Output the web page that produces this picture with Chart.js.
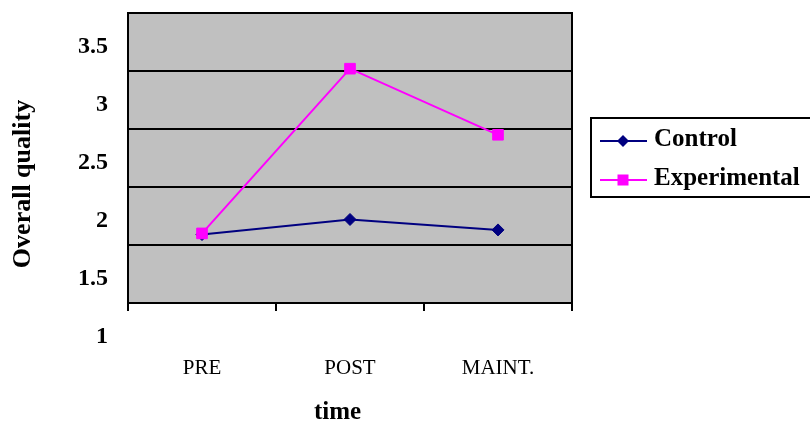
<!DOCTYPE html>
<html>
<head>
<meta charset="utf-8">
<script src="https://cdn.jsdelivr.net/npm/chart.js"></script>
<style>
  html, body { margin: 0; padding: 0; background: #ffffff; }
  #wrap { width: 810px; height: 425px; }
</style>
</head>
<body>
<div id="wrap"><canvas id="c" width="810" height="425"></canvas></div>
<script>
const categories = ['PRE', 'POST', 'MAINT.'];
const controlValues = [1.59, 1.72, 1.63];
const experimentalValues = [1.60, 3.02, 2.45];
const yTickLabels = ['1', '1.5', '2', '2.5', '3', '3.5'];
const seriesNames = ['Control', 'Experimental'];
const yTitle = 'Overall quality';
const xTitle = 'time';

const SERIF = "'Liberation Serif', 'Times New Roman', serif";

const plotBackground = {
  id: 'plotBackground',
  beforeDraw(chart) {
    const { ctx, chartArea: a } = chart;
    ctx.save();
    ctx.fillStyle = '#C0C0C0';
    ctx.fillRect(a.left, a.top, a.right - a.left, a.bottom - a.top);
    ctx.strokeStyle = '#000000';
    ctx.lineWidth = 2;
    ctx.strokeRect(a.left, a.top, a.right - a.left, a.bottom - a.top);
    ctx.restore();
  }
};

const boxedLegend = {
  id: 'boxedLegend',
  afterDraw(chart) {
    const { ctx, chartArea: a } = chart;
    const left = a.right + 19, top = a.top + 105;
    ctx.save();
    ctx.strokeStyle = '#000000';
    ctx.lineWidth = 2;
    ctx.strokeRect(left, top, 240, 79);
    chart.data.datasets.forEach((ds, i) => {
      const y = top + 23 + i * 39;
      ctx.strokeStyle = ds.borderColor;
      ctx.lineWidth = 2;
      ctx.beginPath();
      ctx.moveTo(left + 9, y);
      ctx.lineTo(left + 56, y);
      ctx.stroke();
      ctx.fillStyle = ds.borderColor;
      const cx = left + 32;
      if (ds.pointStyle === 'rectRot') {
        const r = 6;
        ctx.beginPath();
        ctx.moveTo(cx - r, y); ctx.lineTo(cx, y - r); ctx.lineTo(cx + r, y); ctx.lineTo(cx, y + r);
        ctx.closePath();
        ctx.fill();
      } else {
        ctx.fillRect(cx - 5.5, y - 5.5, 11, 11);
      }
      ctx.fillStyle = '#000000';
      ctx.font = "bold 25px " + SERIF;
      ctx.textBaseline = 'alphabetic';
      ctx.textAlign = 'left';
      ctx.fillText(ds.label, left + 63, y + 5);
    });
    ctx.restore();
  }
};

new Chart(document.getElementById('c'), {
  type: 'line',
  data: {
    labels: categories,
    datasets: [
      {
        label: seriesNames[0],
        data: controlValues,
        borderColor: '#000080',
        backgroundColor: '#000080',
        borderWidth: 2,
        pointStyle: 'rectRot',
        pointRadius: 6,
        pointBorderWidth: 1,
        tension: 0,
        order: 2
      },
      {
        label: seriesNames[1],
        data: experimentalValues,
        borderColor: '#FF00FF',
        backgroundColor: '#FF00FF',
        borderWidth: 2,
        pointStyle: 'rect',
        pointRadius: 7.5,
        pointBorderWidth: 1,
        tension: 0,
        order: 1
      }
    ]
  },
  options: {
    responsive: false,
    animation: false,
    layout: { padding: { left: 0, top: 13, right: 238, bottom: 0 } },
    plugins: {
      legend: { display: false },
      tooltip: { enabled: false }
    },
    scales: {
      x: {
        type: 'category',
        offset: true,
        afterFit: s => { s.height = 122; s.paddingLeft = 0; s.paddingRight = 0; },
        grid: { offset: true, drawOnChartArea: false, drawTicks: true, tickLength: 8, color: '#000000', lineWidth: 2 },
        border: { display: true, color: '#000000', width: 2 },
        ticks: { color: '#000000', padding: 45, font: { family: SERIF, size: 21 } },
        title: {
          display: true,
          text: xTitle + '\u2003',
          color: '#000000',
          font: { family: SERIF, size: 25, weight: 'bold', lineHeight: 1 },
          padding: { top: 0, bottom: 0 }
        }
      },
      y: {
        min: 1,
        max: 3.5,
        afterFit: s => { s.width = 128; s.paddingTop = 0; s.paddingBottom = 0; },
        grid: { color: '#000000', lineWidth: 2, drawTicks: false },
        border: { display: true, color: '#000000', width: 2 },
        ticks: {
          stepSize: 0.5,
          padding: 20,
          labelOffset: 34,
          color: '#000000',
          font: { family: SERIF, size: 24, weight: 'bold' },
          callback: (v, i) => yTickLabels[i]
        },
        title: {
          display: true,
          text: yTitle + '\u2003\u2003',
          color: '#000000',
          font: { family: SERIF, size: 26, weight: 'bold', lineHeight: 1 },
          padding: { top: 10, bottom: 0 }
        }
      }
    }
  },
  plugins: [plotBackground, boxedLegend]
});
</script>
</body>
</html>
